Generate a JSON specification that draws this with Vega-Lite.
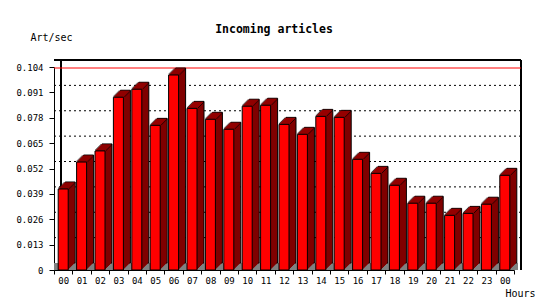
{
  "$schema": "https://vega.github.io/schema/vega-lite/v6.json",
  "width": 460,
  "height": 203,
  "autosize": {"type": "none"},
  "padding": {"left": 54, "top": 67, "right": 36, "bottom": 30},
  "background": "white",
  "title": {"text": "Incoming articles", "font": "DejaVu Sans Mono", "fontSize": 11.5, "fontWeight": "bold", "color": "black", "anchor": "middle", "frame": "group", "dx": -10, "offset": -3},
  "data": {"values": [
    {"slot": "00", "value": 0.0415},
    {"slot": "01", "value": 0.0553},
    {"slot": "02", "value": 0.0610},
    {"slot": "03", "value": 0.0885},
    {"slot": "04", "value": 0.0926},
    {"slot": "05", "value": 0.0741},
    {"slot": "06", "value": 0.0999},
    {"slot": "07", "value": 0.0828},
    {"slot": "08", "value": 0.0772},
    {"slot": "09", "value": 0.0721},
    {"slot": "10", "value": 0.0839},
    {"slot": "11", "value": 0.0844},
    {"slot": "12", "value": 0.0746},
    {"slot": "13", "value": 0.0695},
    {"slot": "14", "value": 0.0787},
    {"slot": "15", "value": 0.0782},
    {"slot": "16", "value": 0.0567},
    {"slot": "17", "value": 0.0495},
    {"slot": "18", "value": 0.0434},
    {"slot": "19", "value": 0.0342},
    {"slot": "20", "value": 0.0342},
    {"slot": "21", "value": 0.0280},
    {"slot": "22", "value": 0.0290},
    {"slot": "23", "value": 0.0337},
    {"slot": "24", "value": 0.0485}
  ]},
  "config": {
    "view": {"stroke": null},
    "axis": {"labelFont": "DejaVu Sans Mono", "labelFontSize": 9, "labelColor": "black", "titleFont": "DejaVu Sans Mono", "titleFontSize": 10, "titleFontWeight": "normal", "titleColor": "black", "domainColor": "black", "domainWidth": 1, "tickColor": "black", "tickWidth": 1, "grid": false, "zindex": 1, "labelOverlap": false}
  },
  "layer": [
    {"mark": {"type": "rule", "color": "#808080", "strokeWidth": 7, "xOffset": 3.5, "yOffset": -3.5},
     "encoding": {"y": {"datum": 0, "type": "quantitative", "scale": {"domain": [0, 0.104], "nice": false},
       "axis": {"title": "Art/sec", "values": [0, 0.013, 0.026, 0.039, 0.052, 0.065, 0.078, 0.091, 0.104], "format": ".3~f", "tickSize": 5, "labelPadding": 6, "titleAngle": 0, "titleX": -24, "titleY": -27, "titleAlign": "left", "titleBaseline": "alphabetic"}}}},
    {"data": {"values": [{"g": 0.013}, {"g": 0.026}, {"g": 0.039}, {"g": 0.052}, {"g": 0.065}, {"g": 0.078}, {"g": 0.091}]},
     "mark": {"type": "rule", "color": "black", "strokeWidth": 1, "strokeDash": [2, 3], "xOffset": 7, "yOffset": -7},
     "encoding": {"y": {"field": "g", "type": "quantitative",
       "axis": {"title": "Art/sec", "values": [0, 0.013, 0.026, 0.039, 0.052, 0.065, 0.078, 0.091, 0.104], "format": ".3~f", "tickSize": 5, "labelPadding": 6, "titleAngle": 0, "titleX": -24, "titleY": -27, "titleAlign": "left", "titleBaseline": "alphabetic"}}}},
    {"mark": {"type": "rule", "color": "black", "strokeWidth": 1, "xOffset": 7, "yOffset": -7},
     "encoding": {"y": {"datum": 0.104, "type": "quantitative",
       "axis": {"title": "Art/sec", "values": [0, 0.013, 0.026, 0.039, 0.052, 0.065, 0.078, 0.091, 0.104], "format": ".3~f", "tickSize": 5, "labelPadding": 6, "titleAngle": 0, "titleX": -24, "titleY": -27, "titleAlign": "left", "titleBaseline": "alphabetic"}}}},
    {"mark": {"type": "rule", "color": "black", "strokeWidth": 1, "xOffset": 7, "yOffset": -7},
     "encoding": {
       "x": {"datum": "00", "type": "ordinal", "bandPosition": 0,
         "axis": {"title": "Hours", "labelExpr": "datum.value == '24' ? '00' : datum.value", "labelAngle": 0, "tickBand": "extent", "tickSize": 4, "labelPadding": 9.5, "labelBaseline": "alphabetic", "titleX": 451, "titleY": 26, "titleAlign": "left", "titleAnchor": "start", "titleBaseline": "alphabetic"}},
       "y": {"datum": 0.104, "type": "quantitative",
         "axis": {"title": "Art/sec", "values": [0, 0.013, 0.026, 0.039, 0.052, 0.065, 0.078, 0.091, 0.104], "format": ".3~f", "tickSize": 5, "labelPadding": 6, "titleAngle": 0, "titleX": -24, "titleY": -27, "titleAlign": "left", "titleBaseline": "alphabetic"}},
       "y2": {"datum": 0}}},
    {"mark": {"type": "rule", "color": "black", "strokeWidth": 1, "xOffset": 7, "yOffset": -7},
     "encoding": {
       "x": {"datum": "24", "type": "ordinal", "bandPosition": 1,
         "axis": {"title": "Hours", "labelExpr": "datum.value == '24' ? '00' : datum.value", "labelAngle": 0, "tickBand": "extent", "tickSize": 4, "labelPadding": 9.5, "labelBaseline": "alphabetic", "titleX": 451, "titleY": 26, "titleAlign": "left", "titleAnchor": "start", "titleBaseline": "alphabetic"}},
       "y": {"datum": 0.104, "type": "quantitative",
         "axis": {"title": "Art/sec", "values": [0, 0.013, 0.026, 0.039, 0.052, 0.065, 0.078, 0.091, 0.104], "format": ".3~f", "tickSize": 5, "labelPadding": 6, "titleAngle": 0, "titleX": -24, "titleY": -27, "titleAlign": "left", "titleBaseline": "alphabetic"}},
       "y2": {"datum": 0}}},
    {"mark": {"type": "rule", "color": "#FF0000", "strokeWidth": 1, "xOffset": 7, "yOffset": -7},
     "encoding": {"y": {"aggregate": "max", "field": "value", "type": "quantitative",
       "axis": {"title": "Art/sec", "values": [0, 0.013, 0.026, 0.039, 0.052, 0.065, 0.078, 0.091, 0.104], "format": ".3~f", "tickSize": 5, "labelPadding": 6, "titleAngle": 0, "titleX": -24, "titleY": -27, "titleAlign": "left", "titleBaseline": "alphabetic"}}}},
    {
      "encoding": {
        "x": {"field": "slot", "type": "ordinal", "scale": {"paddingInner": 0, "paddingOuter": 0},
              "axis": {"title": "Hours", "labelExpr": "datum.value == '24' ? '00' : datum.value", "labelAngle": 0, "tickBand": "extent", "tickSize": 4, "labelPadding": 9.5, "labelBaseline": "alphabetic", "titleX": 451, "titleY": 26, "titleAlign": "left", "titleAnchor": "start", "titleBaseline": "alphabetic"}},
        "y": {"field": "value", "type": "quantitative", "scale": {"domain": [0, 0.104], "nice": false},
              "axis": {"title": "Art/sec", "values": [0, 0.013, 0.026, 0.039, 0.052, 0.065, 0.078, 0.091, 0.104], "format": ".3~f", "tickSize": 5, "labelPadding": 6, "titleAngle": 0, "titleX": -24, "titleY": -27, "titleAlign": "left", "titleBaseline": "alphabetic"}}
      },
      "layer": [
        {"mark": {"type": "bar", "width": 10, "xOffset": 7, "yOffset": -7, "fill": "#800000", "stroke": "black", "strokeWidth": 1}},
        {"mark": {"type": "bar", "width": 10, "xOffset": 6, "yOffset": -6, "fill": "#800000", "strokeWidth": 0}},
        {"mark": {"type": "bar", "width": 10, "xOffset": 5, "yOffset": -5, "fill": "#800000", "strokeWidth": 0}},
        {"mark": {"type": "bar", "width": 10, "xOffset": 4, "yOffset": -4, "fill": "#800000", "strokeWidth": 0}},
        {"mark": {"type": "bar", "width": 10, "xOffset": 3, "yOffset": -3, "fill": "#800000", "strokeWidth": 0}},
        {"mark": {"type": "bar", "width": 10, "xOffset": 2, "yOffset": -2, "fill": "#800000", "strokeWidth": 0}},
        {"mark": {"type": "bar", "width": 10, "xOffset": 1, "yOffset": -1, "fill": "#800000", "strokeWidth": 0}},
        {"mark": {"type": "tick", "orient": "horizontal", "size": 12, "thickness": 1.2, "xOffset": 1, "yOffset": -1, "color": "black"}},
        {"mark": {"type": "tick", "orient": "horizontal", "size": 12, "thickness": 1.2, "xOffset": 2, "yOffset": -2, "color": "black"}},
        {"mark": {"type": "tick", "orient": "horizontal", "size": 12, "thickness": 1.2, "xOffset": 3, "yOffset": -3, "color": "black"}},
        {"mark": {"type": "tick", "orient": "horizontal", "size": 12, "thickness": 1.2, "xOffset": 4, "yOffset": -4, "color": "black"}},
        {"mark": {"type": "tick", "orient": "horizontal", "size": 12, "thickness": 1.2, "xOffset": 5, "yOffset": -5, "color": "black"}},
        {"mark": {"type": "tick", "orient": "horizontal", "size": 12, "thickness": 1.2, "xOffset": 6, "yOffset": -6, "color": "black"}},
        {"mark": {"type": "tick", "orient": "horizontal", "size": 10, "thickness": 1.2, "xOffset": 1, "yOffset": -1, "color": "#C00000"}},
        {"mark": {"type": "tick", "orient": "horizontal", "size": 10, "thickness": 1.2, "xOffset": 2, "yOffset": -2, "color": "#C00000"}},
        {"mark": {"type": "tick", "orient": "horizontal", "size": 10, "thickness": 1.2, "xOffset": 3, "yOffset": -3, "color": "#C00000"}},
        {"mark": {"type": "tick", "orient": "horizontal", "size": 10, "thickness": 1.2, "xOffset": 4, "yOffset": -4, "color": "#C00000"}},
        {"mark": {"type": "tick", "orient": "horizontal", "size": 10, "thickness": 1.2, "xOffset": 5, "yOffset": -5, "color": "#C00000"}},
        {"mark": {"type": "tick", "orient": "horizontal", "size": 10, "thickness": 1.2, "xOffset": 6, "yOffset": -6, "color": "#C00000"}},
        {"mark": {"type": "bar", "width": 10, "fill": "#FF0000", "stroke": "black", "strokeWidth": 1}}
      ]
    }
  ]
}
